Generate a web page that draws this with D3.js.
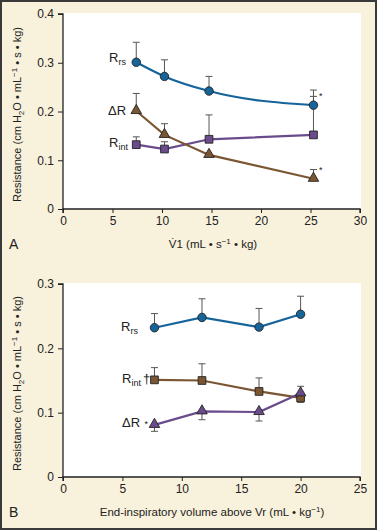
<!DOCTYPE html>
<html>
<head>
<meta charset="utf-8">
<script src="https://cdn.jsdelivr.net/npm/d3@7"></script>
<style>
  html, body { margin: 0; padding: 0; background: #f8f1dc; }
  svg { display: block; font-family: "Liberation Sans", Arial, sans-serif; }
</style>
</head>
<body>
<div id="chart"></div>
<script>
// ---- panel A data ----
const flowA = [7.4, 10.25, 14.75, 25.3];
const rrsA = [0.301, 0.272, 0.242, 0.213];
const rrsErrA = [0.342, 0.306, 0.272, 0.244];
const deltaA = [0.201, 0.152, 0.111, 0.062];
const deltaErrA = [0.237, 0.175, null, 0.081];
const rintA = [0.132, 0.123, 0.143, 0.152];
const rintErrA = [0.148, 0.138, 0.193, 0.231];
const xTicksA = [0, 5, 10, 15, 20, 25, 30];
const yTicksA = [0, 0.1, 0.2, 0.3, 0.4];

// ---- panel B data ----
const volB = [7.7, 11.7, 16.5, 20.0];
const rrsB = [0.232, 0.248, 0.233, 0.253];
const rrsErrB = [0.254, 0.277, 0.262, 0.281];
const rintB = [0.151, 0.150, 0.133, 0.123];
const rintErrB = [0.170, 0.176, 0.154, 0.116];
const deltaB = [0.081, 0.102, 0.101, 0.130];
const deltaErrB = [0.071, 0.089, 0.087, 0.141];
const xTicksB = [0, 5, 10, 15, 20, 25];
const yTicksB = [0, 0.1, 0.2, 0.3];

const BLUE = '#17649b', BROWN = '#7b5633', PURPLE = '#6a4b8b';
const W = 377, H = 530;

const svg = d3.select('#chart').append('svg')
  .attr('width', W).attr('height', H);

svg.append('rect')
  .attr('x', 1).attr('y', 1).attr('width', W - 2).attr('height', H - 2)
  .attr('fill', '#f8f1dc').attr('stroke', '#3a3a3a').attr('stroke-width', 2);

function drawPanel(cfg) {
  const x = d3.scaleLinear().domain(cfg.xDomain).range([63, 360]);
  const y = d3.scaleLinear().domain(cfg.yDomain).range([cfg.bottom, cfg.top]);

  const g = svg.append('g');

  g.append('rect')
    .attr('x', 63).attr('y', cfg.top - 1)
    .attr('width', 298).attr('height', cfg.bottom - cfg.top + 1)
    .attr('fill', '#fff');

  const yAxis = g.append('g')
    .attr('transform', 'translate(63,0)')
    .call(d3.axisLeft(y).tickValues(cfg.yTicks).tickSize(5).tickPadding(4)
      .tickFormat(d => d === 0 ? '0' : d3.format('.1f')(d)));
  const xAxis = g.append('g')
    .attr('transform', `translate(0,${cfg.bottom})`)
    .call(d3.axisBottom(x).tickValues(cfg.xTicks).tickSize(4).tickPadding(3));
  [xAxis, yAxis].forEach(a => {
    a.select('.domain').attr('stroke', '#222').attr('stroke-width', 1.3);
    a.selectAll('.tick line').attr('stroke', '#222');
    a.selectAll('.tick text').attr('font-size', 12).attr('fill', '#222');
  });
  yAxis.select('.domain').attr('d', `M-5,${cfg.top}H0V${cfg.bottom}`);
  xAxis.select('.domain').attr('d', `M63,4V0H360V4`);

  // error bars first
  cfg.series.forEach(s => {
    s.ys.forEach((v, i) => {
      const e = s.err[i];
      if (e === null) return;
      const px = x(cfg.xs[i]);
      g.append('line')
        .attr('x1', px).attr('x2', px).attr('y1', y(v)).attr('y2', y(e))
        .attr('stroke', '#555').attr('stroke-width', 1);
      g.append('line')
        .attr('x1', px - 3.5).attr('x2', px + 3.5).attr('y1', y(e)).attr('y2', y(e))
        .attr('stroke', '#555').attr('stroke-width', 1);
    });
  });

  cfg.series.forEach(s => {
    const line = d3.line()
      .x((d, i) => x(cfg.xs[i])).y(d => y(d))
      .curve(s.curve || d3.curveLinear);
    g.append('path')
      .datum(s.ys)
      .attr('d', line)
      .attr('fill', 'none').attr('stroke', s.color).attr('stroke-width', 2.2);
  });

  cfg.series.forEach(s => {
    const sym = d3.symbol().type(s.shape).size(s.size);
    g.selectAll(null).data(s.ys).join('path')
      .attr('transform', (d, i) => `translate(${x(cfg.xs[i])},${y(d) + (s.shape === d3.symbolTriangle ? -0.5 : 0)})`)
      .attr('d', sym)
      .attr('fill', s.color).attr('stroke', '#222').attr('stroke-width', 0.9);
  });

  // series labels
  cfg.labels.forEach(l => {
    const t = g.append('text')
      .attr('x', l.x).attr('y', l.y)
      .attr('font-size', 13).attr('fill', '#222');
    t.append('tspan').text(l.main);
    if (l.sub) {
      t.append('tspan').text(l.sub).attr('font-size', 9).attr('dy', 3);
    }
    if (l.mark) {
      t.append('tspan').text(l.mark).attr('font-size', l.markSize || 12)
        .attr('dx', 2).attr('dy', l.sub ? -3 : 0);
    }
  });

  cfg.stars.forEach(st => {
    g.append('text').attr('x', st.x).attr('y', st.y)
      .attr('font-size', 9).attr('fill', '#222').text('*');
  });

  // titles
  g.append('text')
    .attr('transform', `translate(21,${(cfg.top + cfg.bottom) / 2 + 3}) rotate(-90)`)
    .attr('text-anchor', 'middle').attr('font-size', 11).attr('fill', '#222')
    .html('Resistance (cm H<tspan font-size="8" dy="3">2</tspan><tspan dy="-3">O • mL</tspan><tspan font-size="8" dy="-4">−1</tspan><tspan dy="4"> • s • kg)</tspan>');

  const xt = g.append('text')
    .attr('x', cfg.xTitleX).attr('y', cfg.bottom + 39)
    .attr('text-anchor', 'middle').attr('font-size', 11.5).attr('fill', '#222');
  xt.html(cfg.xTitle);

  g.append('text')
    .attr('x', 9).attr('y', cfg.bottom + 40)
    .attr('font-size', 14).attr('fill', '#222').text(cfg.panel);
}

drawPanel({
  panel: 'A',
  xDomain: [0, 30], yDomain: [0, 0.4], top: 14, bottom: 209,
  xTicks: xTicksA, yTicks: yTicksA, xs: flowA,
  xTitleX: 213,
  xTitle: 'V̇1 (mL • s<tspan font-size="8" dy="-4">−1</tspan><tspan dy="4"> • kg)</tspan>',
  series: [
    { ys: rintA, err: rintErrA, color: PURPLE, shape: d3.symbolSquare, size: 60 },
    { ys: deltaA, err: deltaErrA, color: BROWN, shape: d3.symbolTriangle, size: 48 },
    { ys: rrsA, err: rrsErrA, color: BLUE, shape: d3.symbolCircle, size: 56, curve: d3.curveMonotoneX }
  ],
  labels: [
    { x: 109, y: 62, main: 'R', sub: 'rs' },
    { x: 108, y: 115, main: 'ΔR' },
    { x: 109, y: 147, main: 'R', sub: 'int' }
  ],
  stars: [{ x: 319, y: 99 }, { x: 319, y: 173 }]
});

drawPanel({
  panel: 'B',
  xDomain: [0, 25], yDomain: [0, 0.3], top: 284, bottom: 477,
  xTicks: xTicksB, yTicks: yTicksB, xs: volB,
  xTitleX: 212,
  xTitle: 'End-inspiratory volume above Vr (mL • kg<tspan font-size="8" dy="-4">−1</tspan><tspan dy="4">)</tspan>',
  series: [
    { ys: rrsB, err: rrsErrB, color: BLUE, shape: d3.symbolCircle, size: 56 },
    { ys: rintB, err: rintErrB, color: BROWN, shape: d3.symbolSquare, size: 60 },
    { ys: deltaB, err: deltaErrB, color: PURPLE, shape: d3.symbolTriangle, size: 48 }
  ],
  labels: [
    { x: 121, y: 331, main: 'R', sub: 'rs' },
    { x: 122, y: 383, main: 'R', sub: 'int', mark: '†', markSize: 13 },
    { x: 122, y: 427, main: 'ΔR', mark: ' *', markSize: 9 }
  ],
  stars: []
});
</script>
</body>
</html>
